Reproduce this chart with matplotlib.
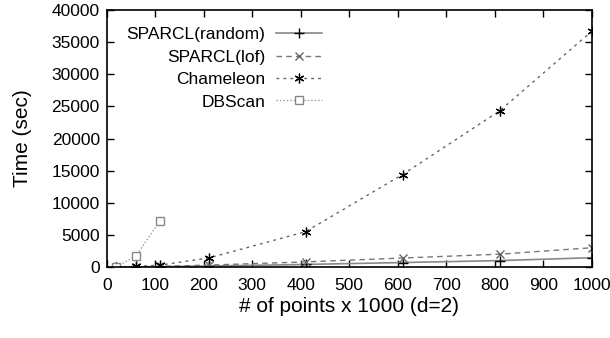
import matplotlib
matplotlib.use("Agg")
import matplotlib.pyplot as plt

plt.rcParams['font.family'] = ['Liberation Sans', 'DejaVu Sans']

# data (x in thousands of points, y in seconds)
x_sparcl = [20, 60, 110, 210, 410, 610, 810, 1000]
y_random = [5, 20, 50, 150, 400, 700, 1000, 1450]
y_lof = [10, 50, 100, 300, 800, 1400, 2000, 3000]

x_cham = [20, 60, 110, 210, 410, 610, 810, 1000]
y_cham = [20, 100, 300, 1400, 5500, 14400, 24300, 36700]

x_dbscan = [20, 60, 110]
y_dbscan = [50, 1700, 7200]

labels = ["SPARCL(random)", "SPARCL(lof)", "Chameleon", "DBScan"]
xticks = list(range(0, 1001, 100))
yticks = list(range(0, 40001, 5000))

fig = plt.figure(figsize=(6.1, 3.38), dpi=100)
ax = fig.add_axes([0.175, 0.21, 0.795, 0.76])

ax.plot(x_sparcl, y_random, color="#888888", lw=1.2, marker="+", ms=7,
        mec="black", mew=1.0, label=labels[0])
ax.plot(x_sparcl, y_lof, color="#777777", lw=1.0, ls=(0, (4, 3)), marker="x", ms=5.5,
        mec="#666666", mew=1.0, label=labels[1])
ax.plot(x_cham, y_cham, color="#666666", lw=1.0, ls=(0, (2, 3)), marker=(6, 2, 0), ms=7,
        mec="black", mew=0.9, label=labels[2])
ax.plot(x_dbscan, y_dbscan, color="#999999", lw=1.0, ls=(0, (1, 1.5)), marker="s", ms=6,
        mfc="white", mec="#888888", mew=1.0, label=labels[3])

ax.set_xlim(0, 1000)
ax.set_ylim(0, 40000)
ax.set_xticks(xticks)
ax.set_yticks(yticks)
ax.tick_params(direction="in", top=True, right=True, length=5, width=1,
               labelsize=12.5)
ax.tick_params(axis="x", pad=8)
ax.tick_params(axis="y", pad=5)
for s in ax.spines.values():
    s.set_linewidth(1.2)

ax.set_xlabel("# of points x 1000 (d=2)", fontsize=15, labelpad=3)
ax.set_ylabel("Time (sec)", fontsize=15, labelpad=14)

# gnuplot-style key: labels right-aligned, sample on the right
leg = ax.legend(loc="upper right", bbox_to_anchor=(0.476, 0.995), frameon=False,
                markerfirst=False, fontsize=12.5, handlelength=2.65,
                handletextpad=0.6, labelspacing=0.42)
for col in leg._legend_handle_box.get_children():
    col.align = "right"

fig.savefig("out.png", dpi=100)
